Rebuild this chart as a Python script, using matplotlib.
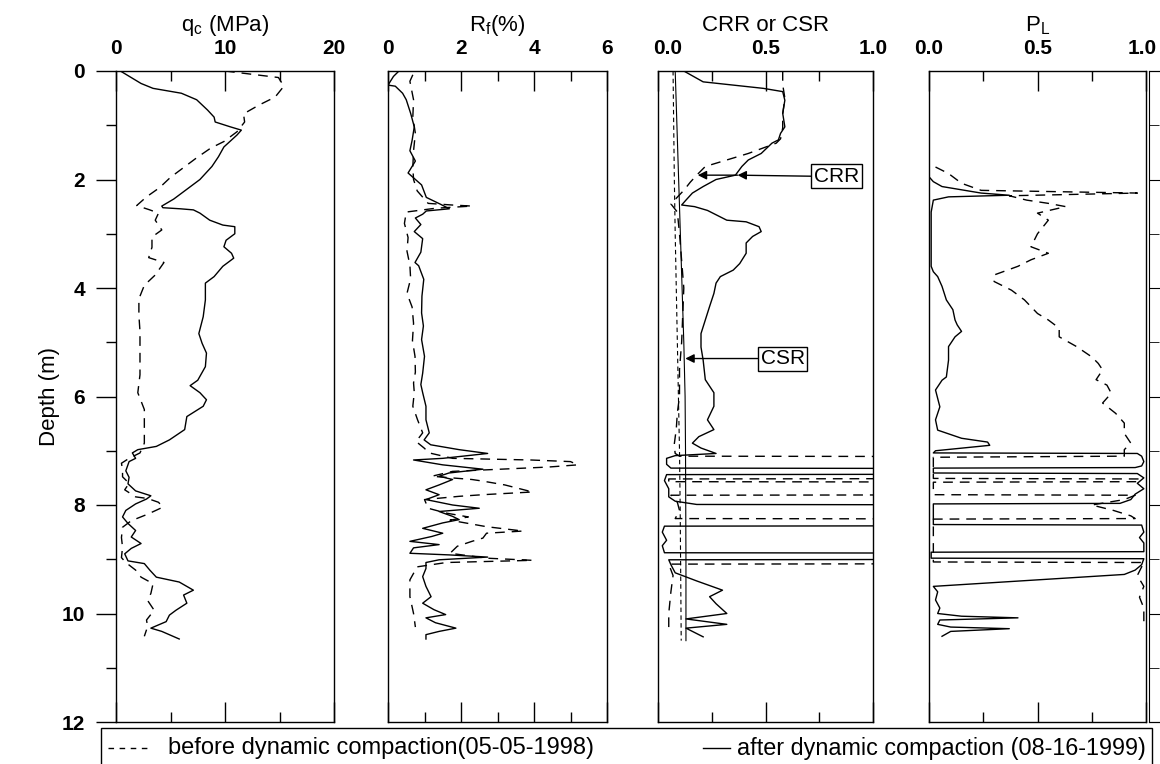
import numpy as np
import matplotlib
matplotlib.use("Agg")
import matplotlib.pyplot as plt
from matplotlib.patches import Rectangle
from matplotlib.lines import Line2D
from matplotlib.transforms import ScaledTranslation

plt.rcParams['font.family'] = ['Liberation Sans', 'DejaVu Sans']

# ---------------- data ----------------
# cone tip resistance qc (MPa)
qc_after_depth = [0, 0.23, 0.32, 0.41, 0.53, 0.72, 0.85, 0.94, 1.03, 1.09, 1.18, 1.4, 1.58, 1.76, 2.0,
                  2.18, 2.36, 2.49, 2.52, 2.54, 2.56, 2.62, 2.75, 2.84, 2.87, 3.0, 3.12, 3.24, 3.36, 3.45,
                  3.6, 3.79, 3.91, 4.22, 4.53, 4.84, 5.02, 5.2, 5.45, 5.7, 5.8, 5.93, 6.06, 6.18, 6.37,
                  6.61, 6.8, 6.92, 6.98, 7.04, 7.14, 7.2, 7.37, 7.49, 7.61, 7.74, 7.83, 7.89, 7.98, 8.1,
                  8.22, 8.34, 8.47, 8.59, 8.71, 8.8, 8.9, 9.03, 9.08, 9.2, 9.33, 9.42, 9.57, 9.66, 9.81,
                  9.94, 10.03, 10.15, 10.27, 10.33, 10.47]
qc_after = [0.4, 2.3, 3.4, 6.0, 7.4, 8.4, 9.0, 9.1, 10.5, 11.5, 11.1, 9.9, 9.4, 8.8, 7.7,
            6.5, 5.3, 4.2, 4.3, 5.9, 7.1, 7.7, 8.6, 9.8, 10.9, 10.9, 10.1, 9.9, 10.6, 10.8,
            9.8, 9.0, 8.2, 8.2, 8.0, 7.6, 7.9, 8.3, 8.2, 7.5, 6.8, 7.7, 8.3, 8.0, 6.5,
            6.3, 4.9, 3.7, 2.0, 1.5, 1.8, 1.2, 0.9, 1.2, 1.1, 1.8, 3.2, 2.8, 1.8, 0.9,
            0.6, 1.1, 1.8, 1.4, 2.3, 1.4, 0.8, 1.1, 2.6, 3.1, 3.7, 5.8, 7.1, 6.2, 6.5,
            5.5, 4.9, 4.6, 3.2, 4.2, 5.8]

qc_before_depth = [0, 0.12, 0.28, 0.48, 0.63, 0.79, 0.94, 1.12, 1.3, 1.42, 1.6, 1.78, 1.96, 2.15, 2.32,
                   2.48, 2.56, 2.62, 2.75, 2.93, 3.06, 3.25, 3.44, 3.53, 3.76, 3.95, 4.2, 4.5, 4.8, 5.1,
                   5.6, 5.93, 6.24, 6.55, 6.86, 7.04, 7.14, 7.23, 7.35, 7.48, 7.6, 7.72, 7.85, 7.88, 7.95,
                   8.04, 8.17, 8.29, 8.41, 8.6, 8.78, 8.97, 9.06, 9.2, 9.33, 9.45, 9.63, 9.76, 9.94, 10.12,
                   10.24, 10.42]
qc_before = [10.0, 14.9, 15.4, 14.6, 13.1, 11.7, 11.8, 11.1, 9.9, 8.7, 7.4, 6.2, 5.0, 4.0, 2.8,
             1.9, 3.1, 3.9, 3.6, 4.2, 3.3, 3.3, 3.0, 4.4, 3.6, 2.6, 2.1, 2.1, 2.2, 2.2,
             2.2, 2.0, 2.6, 2.6, 2.6, 2.2, 1.2, 0.5, 0.6, 0.6, 1.2, 0.8, 1.8, 2.9, 3.9,
             4.3, 2.9, 1.4, 0.6, 0.5, 0.6, 0.5, 0.9, 1.8, 2.3, 3.4, 3.2, 2.9, 3.5, 2.8,
             2.9, 2.6]

# friction ratio Rf (%)
rf_after_depth = [0, 0.1, 0.26, 0.28, 0.41, 0.53, 0.78, 1.03, 1.28, 1.47, 1.66, 1.88, 2.1, 2.33, 2.46,
                  2.54, 2.58, 2.64, 2.71, 2.83, 2.96, 3.09, 3.34, 3.53, 3.59, 3.84, 4.15, 4.46, 4.7, 4.95,
                  5.26, 5.57, 5.78, 5.93, 6.18, 6.43, 6.67, 6.8, 6.89, 6.98, 7.05, 7.14, 7.17, 7.26, 7.34,
                  7.41, 7.47, 7.53, 7.63, 7.72, 7.81, 7.9, 8.0, 8.06, 8.12, 8.21, 8.27, 8.33, 8.43, 8.52,
                  8.58, 8.67, 8.73, 8.79, 8.89, 8.92, 8.96, 9.01, 9.06, 9.17, 9.32, 9.5, 9.69, 9.81, 9.93,
                  10.02, 10.08, 10.17, 10.27, 10.33, 10.39, 10.47]
rf_after = [0.3, 0.15, 0.0, 0.2, 0.4, 0.5, 0.62, 0.72, 0.66, 0.6, 0.75, 0.55, 0.92, 1.05, 1.45,
            1.68, 1.05, 0.95, 0.75, 0.9, 0.72, 0.95, 0.9, 0.74, 0.84, 0.98, 0.93, 0.92, 0.97, 0.92,
            1.0, 0.95, 0.9, 0.95, 1.04, 1.04, 1.13, 0.99, 1.17, 1.95, 2.73, 1.5, 0.7, 1.5, 2.6,
            1.67, 1.4, 1.77, 1.4, 1.04, 1.4, 1.04, 1.77, 2.5, 1.4, 1.77, 1.95, 1.5, 0.95, 1.5,
            1.2, 0.6, 1.4, 0.7, 0.6, 1.68, 2.73, 1.4, 1.04, 1.04, 0.95, 1.04, 1.18, 0.95, 1.26,
            1.58, 1.04, 1.3, 1.86, 1.4, 1.04, 1.04]

rf_before_depth = [0.07, 0.19, 0.53, 0.85, 1.15, 1.47, 1.77, 2.0, 2.21, 2.44, 2.47, 2.49, 2.53, 2.6, 2.81,
                   3.07, 3.32, 3.58, 3.83, 4.1, 4.35, 4.65, 4.97, 5.26, 5.55, 5.75, 5.93, 6.18, 6.43, 6.67,
                   6.83, 6.95, 7.04, 7.14, 7.17, 7.2, 7.26, 7.3, 7.38, 7.47, 7.53, 7.56, 7.63, 7.76, 7.81,
                   7.84, 7.9, 8.06, 8.15, 8.22, 8.28, 8.4, 8.48, 8.52, 8.61, 8.67, 8.76, 8.89, 8.98, 9.02,
                   9.06, 9.14, 9.38, 9.69, 10.0, 10.25]
rf_before = [0.68, 0.6, 0.7, 0.68, 0.75, 0.7, 0.68, 0.7, 0.8, 1.1, 1.75, 2.3, 1.3, 0.5, 0.45,
             0.55, 0.52, 0.6, 0.62, 0.52, 0.66, 0.7, 0.67, 0.74, 0.75, 0.7, 0.72, 0.68, 0.81, 0.95,
             0.77, 0.99, 1.13, 1.77, 3.9, 5.0, 5.2, 4.4, 1.77, 1.2, 2.3, 2.6, 3.2, 3.96, 2.6,
             1.95, 1.0, 1.1, 1.6, 2.2, 1.7, 2.7, 3.7, 2.7, 2.6, 2.3, 1.9, 1.7, 2.7, 3.96,
             1.6, 0.8, 0.6, 0.6, 0.7, 0.75]

# cyclic resistance / stress ratios (2.0 = non-liquefiable layer, beyond the scale)
crr_after_depth = [0, 0.2, 0.32, 0.38, 0.54, 0.78, 1.03, 1.15, 1.27, 1.33, 1.52, 1.64, 1.76, 1.92, 2.0,
                   2.13, 2.25, 2.38, 2.47, 2.5, 2.57, 2.69, 2.75, 2.78, 2.87, 2.96, 3.05, 3.17, 3.36, 3.55,
                   3.67, 3.79, 3.91, 4.1, 4.34, 4.59, 4.84, 5.09, 5.33, 5.69, 5.93, 6.18, 6.43, 6.61, 6.74,
                   6.86, 6.95, 7.05, 7.09, 7.14, 7.25, 7.32, 7.33, 7.43, 7.44, 7.55, 7.7, 7.85, 7.93, 7.99,
                   8.0, 8.38, 8.39, 8.5, 8.65, 8.75, 8.88, 8.89, 9.0, 9.01, 9.1, 9.25, 9.4, 9.57, 9.69,
                   9.82, 10.0, 10.1, 10.2, 10.27, 10.43]
crr_after = [0.12, 0.21, 0.49, 0.58, 0.59, 0.58, 0.59, 0.57, 0.56, 0.53, 0.48, 0.42, 0.39, 0.36, 0.27,
             0.21, 0.16, 0.13, 0.11, 0.17, 0.23, 0.29, 0.32, 0.41, 0.47, 0.48, 0.44, 0.41, 0.41, 0.38,
             0.35, 0.29, 0.27, 0.26, 0.24, 0.22, 0.2, 0.2, 0.21, 0.22, 0.26, 0.26, 0.23, 0.26, 0.19,
             0.16, 0.2, 0.27, 0.08, 0.04, 0.04, 0.06, 2.0, 2.0, 0.04, 0.03, 0.05, 0.05, 0.08, 0.18,
             2.0, 2.0, 0.03, 0.02, 0.04, 0.02, 0.03, 2.0, 2.0, 0.05, 0.06, 0.08, 0.18, 0.3, 0.24,
             0.27, 0.32, 0.13, 0.32, 0.13, 0.21]

crr_before_depth = [0.0, 0.25, 0.5, 0.8, 1.05, 1.25, 1.33, 1.52, 1.64, 1.76, 1.92, 2.05, 2.2, 2.45, 2.6,
                    3.0, 3.5, 4.0, 4.5, 5.0, 5.5, 6.0, 6.3, 6.6, 6.9, 7.05, 7.1, 7.11, 7.51, 7.52,
                    7.57, 7.58, 7.81, 7.82, 7.95, 8.1, 8.25, 8.26, 9.08, 9.09, 9.3, 9.6, 10.0, 10.35]
crr_before = [0.58, 0.58, 0.59, 0.58, 0.58, 0.57, 0.55, 0.42, 0.32, 0.22, 0.18, 0.15, 0.12, 0.06, 0.09,
              0.1, 0.11, 0.12, 0.115, 0.11, 0.1, 0.1, 0.09, 0.085, 0.075, 0.08, 0.1, 2.0, 2.0, 0.05,
              0.05, 2.0, 2.0, 0.06, 0.09, 0.1, 0.08, 2.0, 2.0, 0.05, 0.07, 0.06, 0.05, 0.05]

csr_depth = [0, 1, 2, 3, 4, 5, 6, 7, 8, 9, 10, 10.5]
csr_after = [0.08, 0.088, 0.096, 0.104, 0.112, 0.12, 0.126, 0.128, 0.129, 0.13, 0.13, 0.13]
csr_before = [0.07, 0.073, 0.076, 0.08, 0.085, 0.09, 0.095, 0.1, 0.103, 0.105, 0.107, 0.108]

# liquefaction probability PL
pl_after_depth = [0, 1.95, 2.04, 2.13, 2.19, 2.25, 2.29, 2.32, 2.38, 2.6, 3.6, 3.7, 3.79, 3.97, 4.22,
                  4.4, 4.59, 4.68, 4.8, 4.9, 5.08, 5.33, 5.64, 5.7, 5.88, 6.19, 6.43, 6.62, 6.77, 6.84,
                  6.9, 7.0, 7.04, 7.05, 7.1, 7.2, 7.28, 7.31, 7.32, 7.41, 7.42, 7.5, 7.6, 7.7, 7.8,
                  7.9, 7.97, 7.98, 8.36, 8.37, 8.5, 8.6, 8.7, 8.86, 8.87, 8.98, 8.99, 9.1, 9.2, 9.28,
                  9.5, 9.6, 9.75, 9.9, 10.0, 10.05, 10.08, 10.12, 10.2, 10.25, 10.28, 10.33, 10.42]
pl_after = [0.0, 0.0, 0.02, 0.06, 0.15, 0.24, 0.37, 0.09, 0.02, 0.01, 0.01, 0.02, 0.04, 0.06, 0.08,
            0.11, 0.12, 0.13, 0.15, 0.12, 0.09, 0.09, 0.08, 0.06, 0.03, 0.05, 0.03, 0.04, 0.15, 0.27,
            0.28, 0.03, 0.02, 0.96, 0.98, 0.99, 0.98, 0.95, 0.02, 0.02, 0.96, 0.99, 0.96, 0.99, 0.95,
            0.93, 0.88, 0.02, 0.02, 0.98, 0.99, 0.97, 0.99, 0.99, 0.01, 0.01, 0.99, 0.98, 0.95, 0.9,
            0.02, 0.04, 0.03, 0.05, 0.04, 0.15, 0.41, 0.05, 0.04, 0.1, 0.37, 0.1, 0.06]

pl_before_depth = [1.77, 1.89, 2.07, 2.2, 2.25, 2.3, 2.38, 2.44, 2.5, 2.62, 2.75, 3.0, 3.24, 3.36, 3.48,
                   3.6, 3.76, 3.88, 4.04, 4.22, 4.47, 4.59, 4.74, 4.9, 5.08, 5.27, 5.39, 5.51, 5.69, 5.79,
                   5.94, 6.12, 6.31, 6.49, 6.68, 6.86, 6.98, 7.1, 7.12, 7.51, 7.52, 7.57, 7.58, 7.81, 7.82,
                   7.9, 8.0, 8.1, 8.2, 8.25, 8.26, 9.05, 9.06, 9.3, 9.5, 9.7, 9.9, 10.1, 10.27]
pl_before = [0.03, 0.09, 0.15, 0.24, 0.96, 0.37, 0.45, 0.55, 0.63, 0.5, 0.55, 0.5, 0.47, 0.55, 0.47,
             0.41, 0.3, 0.3, 0.38, 0.44, 0.5, 0.55, 0.6, 0.6, 0.68, 0.75, 0.78, 0.8, 0.77, 0.82,
             0.84, 0.8, 0.86, 0.9, 0.9, 0.93, 0.9, 0.9, 0.02, 0.02, 0.97, 0.97, 0.02, 0.02, 0.95,
             0.9, 0.75, 0.85, 0.93, 0.95, 0.02, 0.02, 0.99, 0.96, 0.99, 0.97, 0.99, 0.99, 0.99]

panel_titles = ['q$_\\mathregular{c}$ (MPa)', 'R$_\\mathregular{f}$(%)', 'CRR or CSR', 'P$_\\mathregular{L}$']
legend_before = 'before dynamic compaction(05-05-1998)'
legend_after = 'after dynamic compaction (08-16-1999)'

# ---------------- figure ----------------
W, H = 1160, 764
fig = plt.figure(figsize=(W / 100, H / 100), dpi=100)

def px_axes(x0, x1, y0=71, y1=722):
    return fig.add_axes([x0 / W, 1 - y1 / H, (x1 - x0) / W, (y1 - y0) / H])

ax_qc = px_axes(116, 334)
ax_rf = px_axes(388, 607)
ax_cr = px_axes(658, 873)
ax_pl = px_axes(929, 1146)
ax_ex = px_axes(1149, 1400)

DASH = (0, (7, 5))
LW = 1.0
TICK_FS = 15

def style_axis(ax, xmax, majors, minors, labels):
    ax.set_xlim(0, xmax)
    ax.set_ylim(12, 0)
    ax.set_xticks(majors)
    ax.set_xticks(minors, minor=True)
    ax.set_xticklabels(labels, fontsize=TICK_FS, fontweight='bold')
    ax.tick_params(axis='x', which='both', direction='in', top=True, bottom=True,
                   labeltop=True, labelbottom=False, width=1.0, pad=9)
    ax.tick_params(axis='x', which='major', length=14.5)
    ax.tick_params(axis='x', which='minor', length=7.5)
    for s in ax.spines.values():
        s.set_linewidth(1.0)

style_axis(ax_qc, 20, [0, 10, 20], [5, 15], ['0', '10', '20'])
style_axis(ax_rf, 6, [0, 2, 4, 6], [1, 3, 5], ['0', '2', '4', '6'])
style_axis(ax_cr, 1.0, [0, 0.5, 1.0], [0.25, 0.75], ['0.0', '0.5', '1.0'])
style_axis(ax_pl, 1.0, [0, 0.5, 1.0], [0.25, 0.75], ['0.0', '0.5', '1.0'])

def shift_label(lbl, dx_px):
    lbl.set_transform(lbl.get_transform() + ScaledTranslation(dx_px / 100, 0, fig.dpi_scale_trans))

# nudge crowded end labels apart
shift_label(ax_cr.get_xticklabels()[0], 10)
shift_label(ax_pl.get_xticklabels()[-1], -4)

ax_qc.set_yticks(np.arange(0, 13, 2))
ax_qc.set_yticks(np.arange(1, 12, 2), minor=True)
ax_qc.set_yticklabels([str(v) for v in range(0, 13, 2)], fontsize=TICK_FS, fontweight='bold')
ax_qc.tick_params(axis='y', which='major', direction='out', length=14.5, width=1.0, pad=8)
ax_qc.tick_params(axis='y', which='minor', direction='out', length=7.5, width=1.0)
for ax in (ax_rf, ax_cr, ax_pl):
    ax.tick_params(axis='y', which='both', left=False, labelleft=False)

# partial neighbouring track on the right edge
ax_ex.set_ylim(12, 0)
ax_ex.set_xticks([])
ax_ex.set_yticks(np.arange(0, 13, 2))
ax_ex.set_yticks(np.arange(1, 12, 2), minor=True)
ax_ex.tick_params(axis='y', which='major', direction='in', length=14.5, labelleft=False)
ax_ex.tick_params(axis='y', which='minor', direction='in', length=7.5, labelleft=False)
ax_ex.spines['right'].set_visible(False)

# ---------------- profiles ----------------
ax_qc.plot(qc_before, qc_before_depth, color='k', lw=LW, ls=DASH)
ax_qc.plot(qc_after, qc_after_depth, color='k', lw=LW)

ax_rf.plot(rf_before, rf_before_depth, color='k', lw=LW, ls=DASH)
ax_rf.plot(rf_after, rf_after_depth, color='k', lw=LW)

ax_cr.plot(csr_before, csr_depth, color='k', lw=0.8, ls=(0, (4, 3)))
ax_cr.plot(csr_after, csr_depth, color='k', lw=0.8)
ax_cr.plot(crr_before, crr_before_depth, color='k', lw=LW, ls=DASH)
ax_cr.plot(crr_after, crr_after_depth, color='k', lw=LW)

ax_pl.plot(pl_before, pl_before_depth, color='k', lw=LW, ls=DASH)
ax_pl.plot(pl_after, pl_after_depth, color='k', lw=LW)

# ---------------- annotations ----------------
arrow_kw = dict(arrowstyle='-|>', color='k', lw=1.0, mutation_scale=13, shrinkA=0, shrinkB=0)
box_kw = dict(boxstyle='square,pad=0.12', fc='white', ec='k', lw=1.0)
ax_cr.annotate('CRR', xy=(0.37, 1.92), xytext=(0.83, 1.94), fontsize=15,
               ha='center', va='center', bbox=box_kw,
               arrowprops=dict(relpos=(0, 0.5), **arrow_kw))
ax_cr.annotate('', xy=(0.185, 1.92), xytext=(0.37, 1.92),
               arrowprops=arrow_kw)
ax_cr.annotate('CSR', xy=(0.127, 5.3), xytext=(0.58, 5.3), fontsize=15,
               ha='center', va='center', bbox=box_kw,
               arrowprops=dict(relpos=(0, 0.5), **arrow_kw))

# ---------------- titles and labels ----------------
for ax, title in zip((ax_qc, ax_rf, ax_cr, ax_pl), panel_titles):
    ax.text(0.5, 1 + 40 / 651, title, transform=ax.transAxes, ha='center', va='baseline',
            fontsize=16, clip_on=False)

fig.text(50 / W, 1 - 397 / H, 'Depth (m)', rotation=90, ha='center', va='center', fontsize=16)

# ---------------- legend ----------------
fig.add_artist(Rectangle((101 / W, 1 - 800 / H), (1152 - 101) / W, (800 - 728) / H,
                         transform=fig.transFigure, fill=False, ec='k', lw=1.0))
ly = 1 - 748 / H
fig.add_artist(Line2D([108 / W, 152 / W], [ly, ly], transform=fig.transFigure,
                      color='k', lw=1.0, ls=(0, (4, 4))))
fig.text(168 / W, ly, legend_before, ha='left', va='center', fontsize=17)
fig.add_artist(Line2D([703 / W, 730 / W], [ly, ly], transform=fig.transFigure, color='k', lw=1.0))
fig.text(737 / W, ly, legend_after, ha='left', va='center', fontsize=16.8)

fig.savefig('out.png', dpi=100, facecolor='white')
